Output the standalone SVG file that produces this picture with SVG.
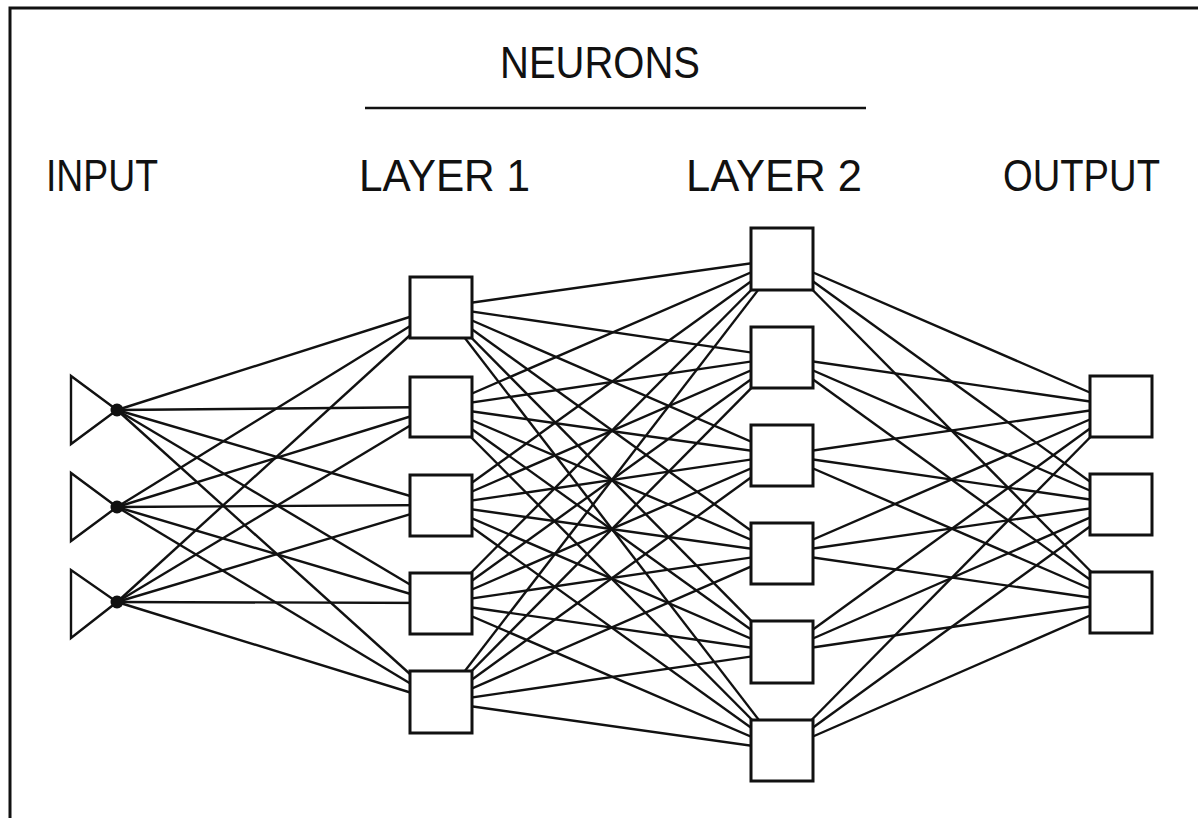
<svg xmlns="http://www.w3.org/2000/svg" width="1198" height="818" viewBox="0 0 1198 818">
<style>
.lbl{font-family:"Liberation Sans",Arial,sans-serif;font-size:45px;fill:#111}
.c line{stroke:#111;stroke-width:2.4}
.box{fill:#fff;stroke:#111;stroke-width:3}
.tri{fill:none;stroke:#111;stroke-width:2.4}
.dot{fill:#111}
</style>
<rect x="0" y="0" width="1198" height="818" fill="#fff"/>
<path d="M10,818 V8 H1198" fill="none" stroke="#111" stroke-width="3"/>
<g id="labels">
<text class="lbl" x="500" y="78" textLength="200" lengthAdjust="spacingAndGlyphs">NEURONS</text>
<line x1="365" y1="108" x2="866" y2="108" stroke="#111" stroke-width="2.5"/>
<text class="lbl" x="46" y="191" textLength="112" lengthAdjust="spacingAndGlyphs">INPUT</text>
<text class="lbl" x="359" y="191" textLength="171" lengthAdjust="spacingAndGlyphs">LAYER 1</text>
<text class="lbl" x="686" y="191" textLength="176" lengthAdjust="spacingAndGlyphs">LAYER 2</text>
<text class="lbl" x="1003" y="191" textLength="157" lengthAdjust="spacingAndGlyphs">OUTPUT</text>
</g>
<g id="connectors" class="c">
<line x1="117" y1="410" x2="441" y2="307"/><line x1="117" y1="410" x2="441" y2="407"/><line x1="117" y1="410" x2="441" y2="505"/><line x1="117" y1="410" x2="441" y2="603"/><line x1="117" y1="410" x2="441" y2="702"/>
<line x1="117" y1="507" x2="441" y2="307"/><line x1="117" y1="507" x2="441" y2="407"/><line x1="117" y1="507" x2="441" y2="505"/><line x1="117" y1="507" x2="441" y2="603"/><line x1="117" y1="507" x2="441" y2="702"/>
<line x1="117" y1="602" x2="441" y2="307"/><line x1="117" y1="602" x2="441" y2="407"/><line x1="117" y1="602" x2="441" y2="505"/><line x1="117" y1="602" x2="441" y2="603"/><line x1="117" y1="602" x2="441" y2="702"/>
<line x1="441" y1="307" x2="782" y2="259"/><line x1="441" y1="307" x2="782" y2="357"/><line x1="441" y1="307" x2="782" y2="455"/><line x1="441" y1="307" x2="782" y2="553"/><line x1="441" y1="307" x2="782" y2="652"/><line x1="441" y1="307" x2="782" y2="750"/>
<line x1="441" y1="407" x2="782" y2="259"/><line x1="441" y1="407" x2="782" y2="357"/><line x1="441" y1="407" x2="782" y2="455"/><line x1="441" y1="407" x2="782" y2="553"/><line x1="441" y1="407" x2="782" y2="652"/><line x1="441" y1="407" x2="782" y2="750"/>
<line x1="441" y1="505" x2="782" y2="259"/><line x1="441" y1="505" x2="782" y2="357"/><line x1="441" y1="505" x2="782" y2="455"/><line x1="441" y1="505" x2="782" y2="553"/><line x1="441" y1="505" x2="782" y2="652"/><line x1="441" y1="505" x2="782" y2="750"/>
<line x1="441" y1="603" x2="782" y2="259"/><line x1="441" y1="603" x2="782" y2="357"/><line x1="441" y1="603" x2="782" y2="455"/><line x1="441" y1="603" x2="782" y2="553"/><line x1="441" y1="603" x2="782" y2="652"/><line x1="441" y1="603" x2="782" y2="750"/>
<line x1="441" y1="702" x2="782" y2="259"/><line x1="441" y1="702" x2="782" y2="357"/><line x1="441" y1="702" x2="782" y2="455"/><line x1="441" y1="702" x2="782" y2="553"/><line x1="441" y1="702" x2="782" y2="652"/><line x1="441" y1="702" x2="782" y2="750"/>
<line x1="782" y1="259" x2="1121" y2="406"/><line x1="782" y1="259" x2="1121" y2="504"/><line x1="782" y1="259" x2="1121" y2="602"/>
<line x1="782" y1="357" x2="1121" y2="406"/><line x1="782" y1="357" x2="1121" y2="504"/><line x1="782" y1="357" x2="1121" y2="602"/>
<line x1="782" y1="455" x2="1121" y2="406"/><line x1="782" y1="455" x2="1121" y2="504"/><line x1="782" y1="455" x2="1121" y2="602"/>
<line x1="782" y1="553" x2="1121" y2="406"/><line x1="782" y1="553" x2="1121" y2="504"/><line x1="782" y1="553" x2="1121" y2="602"/>
<line x1="782" y1="652" x2="1121" y2="406"/><line x1="782" y1="652" x2="1121" y2="504"/><line x1="782" y1="652" x2="1121" y2="602"/>
<line x1="782" y1="750" x2="1121" y2="406"/><line x1="782" y1="750" x2="1121" y2="504"/><line x1="782" y1="750" x2="1121" y2="602"/>
</g>
<g id="in1"><polygon class="tri" points="71,376 71,444 117,410"/><circle class="dot" cx="117" cy="410" r="6.5"/></g>
<g id="in2"><polygon class="tri" points="71,473 71,541 117,507"/><circle class="dot" cx="117" cy="507" r="6.5"/></g>
<g id="in3"><polygon class="tri" points="71,570 71,638 117,602"/><circle class="dot" cx="117" cy="602" r="6.5"/></g>
<g id="l1n1"><rect class="box" x="410" y="277" width="62" height="61"/></g>
<g id="l1n2"><rect class="box" x="410" y="377" width="62" height="60"/></g>
<g id="l1n3"><rect class="box" x="410" y="475" width="62" height="61"/></g>
<g id="l1n4"><rect class="box" x="410" y="573" width="62" height="61"/></g>
<g id="l1n5"><rect class="box" x="410" y="671" width="62" height="62"/></g>
<g id="l2n1"><rect class="box" x="751" y="228" width="62" height="62"/></g>
<g id="l2n2"><rect class="box" x="751" y="327" width="62" height="61"/></g>
<g id="l2n3"><rect class="box" x="751" y="425" width="62" height="61"/></g>
<g id="l2n4"><rect class="box" x="751" y="523" width="62" height="61"/></g>
<g id="l2n5"><rect class="box" x="751" y="621" width="62" height="62"/></g>
<g id="l2n6"><rect class="box" x="751" y="720" width="62" height="61"/></g>
<g id="out1"><rect class="box" x="1090" y="376" width="62" height="61"/></g>
<g id="out2"><rect class="box" x="1090" y="474" width="62" height="61"/></g>
<g id="out3"><rect class="box" x="1090" y="572" width="62" height="61"/></g>
</svg>
